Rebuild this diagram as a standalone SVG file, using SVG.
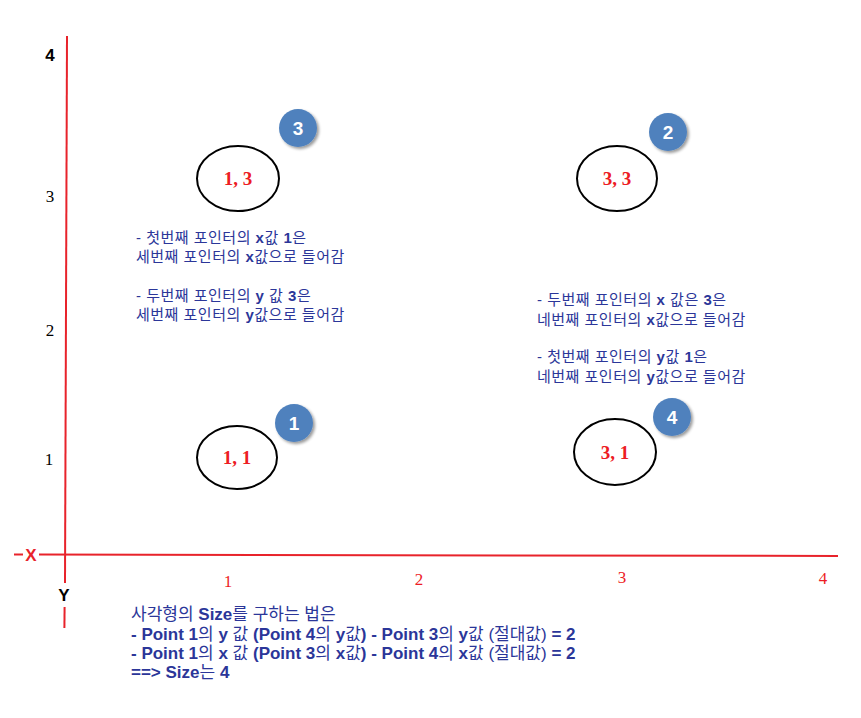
<svg xmlns="http://www.w3.org/2000/svg" width="861" height="718" viewBox="0 0 861 718">
<defs>
<style>
.ax{stroke:#E8232B;stroke-width:2;fill:none}
.ell{fill:#fff;stroke:#000;stroke-width:2}
.el{font-family:"Liberation Serif","DejaVu Serif",serif;font-weight:bold;font-size:19px;fill:#ED1C24;text-anchor:middle}
.badge{fill:#4F81BD}
.bt{font-family:"Liberation Sans","DejaVu Sans",sans-serif;font-weight:bold;font-size:19px;fill:#fff;text-anchor:middle}
.xn{font-family:"Liberation Serif",serif;font-size:17px;fill:#ED1C24;text-anchor:middle}
.yn{font-family:"Liberation Serif",serif;font-size:17px;fill:#000;text-anchor:middle}
.note{font-family:"Liberation Sans","Noto Sans CJK KR",sans-serif;font-size:15px;letter-spacing:0.5px;fill:#2B3699}
.big{font-family:"Liberation Sans","Noto Sans CJK KR",sans-serif;font-size:17px;fill:#2B3699}
.b{font-weight:bold}
</style>
<filter id="sh" x="-30%" y="-30%" width="170%" height="170%">
<feGaussianBlur in="SourceAlpha" stdDeviation="1.5"/>
<feOffset dx="2" dy="2" result="o"/>
<feComponentTransfer><feFuncA type="linear" slope="0.4"/></feComponentTransfer>
<feMerge><feMergeNode/><feMergeNode in="SourceGraphic"/></feMerge>
</filter>
</defs>
<rect width="861" height="718" fill="#fff"/>
<g id="axes">
<line class="ax" x1="67" y1="36" x2="65" y2="583"/>
<line class="ax" x1="64.6" y1="607" x2="64.4" y2="628"/>
<line class="ax" x1="39" y1="554.5" x2="838" y2="556"/>
<line class="ax" x1="14" y1="554.5" x2="23" y2="554.5"/>
<text x="31" y="561" font-family="Liberation Sans,sans-serif" font-weight="bold" font-size="17" fill="#E8232B" text-anchor="middle">X</text>
<text x="64" y="601" font-family="Liberation Sans,sans-serif" font-weight="bold" font-size="17" fill="#000" text-anchor="middle">Y</text>
<text class="xn" x="228" y="587">1</text>
<text class="xn" x="419" y="585">2</text>
<text class="xn" x="622" y="583">3</text>
<text class="xn" x="823" y="584">4</text>
<text x="50" y="61" font-family="Liberation Sans,sans-serif" font-weight="bold" font-size="17" fill="#000" text-anchor="middle">4</text>
<text class="yn" x="50" y="202">3</text>
<text class="yn" x="50" y="336">2</text>
<text class="yn" x="49" y="465">1</text>
</g>
<g id="connectors"></g>
<g id="p13">
<ellipse class="ell" cx="238" cy="178.5" rx="41" ry="32.5"/>
<text class="el" x="238" y="185">1, 3</text>
</g>
<g id="p33">
<ellipse class="ell" cx="617" cy="178.5" rx="40" ry="32.5"/>
<text class="el" x="617" y="185">3, 3</text>
</g>
<g id="p11">
<ellipse class="ell" cx="237" cy="457.5" rx="40" ry="31.5"/>
<text class="el" x="237" y="464">1, 1</text>
</g>
<g id="p31">
<ellipse class="ell" cx="615" cy="452" rx="41" ry="33"/>
<text class="el" x="615" y="459">3, 1</text>
</g>
<g id="b3"><circle class="badge" cx="298" cy="128" r="19" filter="url(#sh)"/><text class="bt" x="298" y="135">3</text></g>
<g id="b2"><circle class="badge" cx="668" cy="132" r="19" filter="url(#sh)"/><text class="bt" x="668" y="139">2</text></g>
<g id="b1"><circle class="badge" cx="294" cy="423" r="19" filter="url(#sh)"/><text class="bt" x="294" y="430">1</text></g>
<g id="b4"><circle class="badge" cx="672" cy="417" r="19" filter="url(#sh)"/><text class="bt" x="672" y="424">4</text></g>
<g id="note-left">
<text class="note" x="136" y="243">- 첫번째 포인터의 <tspan class="b">x</tspan>값 <tspan class="b">1</tspan>은</text>
<text class="note" x="136" y="262">세번째 포인터의 <tspan class="b">x</tspan>값으로 들어감</text>
<text class="note" x="136" y="301">- 두번째 포인터의 <tspan class="b">y</tspan> 값 <tspan class="b">3</tspan>은</text>
<text class="note" x="136" y="320">세번째 포인터의 <tspan class="b">y</tspan>값으로 들어감</text>
</g>
<g id="note-right">
<text class="note" x="537" y="305">- 두번째 포인터의 <tspan class="b">x</tspan> 값은 <tspan class="b">3</tspan>은</text>
<text class="note" x="537" y="325">네번째 포인터의 <tspan class="b">x</tspan>값으로 들어감</text>
<text class="note" x="537" y="362">- 첫번째 포인터의 <tspan class="b">y</tspan>값 <tspan class="b">1</tspan>은</text>
<text class="note" x="537" y="382">네번째 포인터의 <tspan class="b">y</tspan>값으로 들어감</text>
</g>
<g id="note-bottom">
<text class="big" x="131" y="620">사각형의 <tspan class="b">Size</tspan>를 구하는 법은</text>
<text class="big b" x="131" y="640">- Point 1<tspan font-weight="normal">의</tspan> y <tspan font-weight="normal">값</tspan> (Point 4<tspan font-weight="normal">의</tspan> y<tspan font-weight="normal">값</tspan>) - Point 3<tspan font-weight="normal">의</tspan> y<tspan font-weight="normal">값 (절대값)</tspan> = 2</text>
<text class="big b" x="131" y="659">- Point 1<tspan font-weight="normal">의</tspan> x <tspan font-weight="normal">값</tspan> (Point 3<tspan font-weight="normal">의</tspan> x<tspan font-weight="normal">값</tspan>) - Point 4<tspan font-weight="normal">의</tspan> x<tspan font-weight="normal">값 (절대값)</tspan> = 2</text>
<text class="big b" x="131" y="678">==&gt; Size<tspan font-weight="normal">는</tspan> 4</text>
</g>
</svg>
